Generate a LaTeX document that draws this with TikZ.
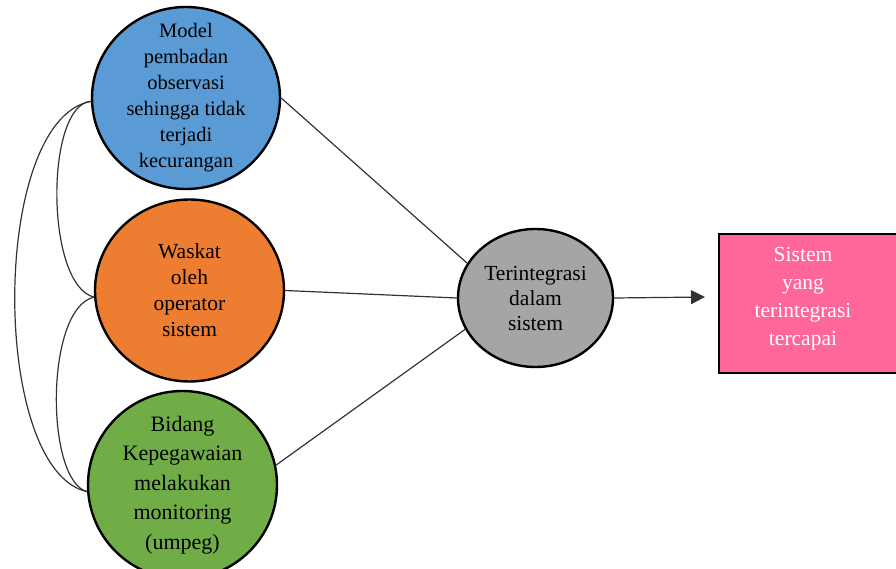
\documentclass[tikz,border=0pt]{standalone}
\usepackage{fontspec}
\setmainfont{Liberation Serif}
\usetikzlibrary{arrows.meta,shapes.geometric}
\definecolor{cblue}{HTML}{5B9BD5}
\definecolor{corange}{HTML}{ED7D31}
\definecolor{cgreen}{HTML}{70AD47}
\definecolor{cgrey}{HTML}{A5A5A5}
\definecolor{cpink}{HTML}{FF6699}
\tikzset{
  bubble/.style={ellipse, draw=black, line width=2.4pt, inner sep=0pt},
  bubbletext/.style={align=center, inner sep=0pt},
  conn/.style={draw=black!80, line width=1.2pt},
  loop/.style={draw=black!80, line width=1.2pt},
}
\begin{document}
\begin{tikzpicture}[x=1pt,y=-1pt]
\useasboundingbox (0,0) rectangle (896,569);
\node[bubble, fill=cblue, minimum width=188pt, minimum height=182pt,
  label={[bubbletext, font=\fontsize{20.5}{26}\selectfont]center:{Model\\pembadan\\observasi\\sehingga tidak\\terjadi\\kecurangan}}] (blue) at (186,98) {};
\node[bubble, fill=corange, minimum width=189pt, minimum height=182pt,
  label={[bubbletext, font=\fontsize{21.5}{26}\selectfont]center:{Waskat\\oleh\\operator\\sistem}}] (orange) at (189.5,290.5) {};
\node[bubble, fill=cgreen, minimum width=189pt, minimum height=188pt,
  label={[bubbletext, font=\fontsize{22}{29.5}\selectfont]center:{Bidang\\Kepegawaian\\melakukan\\monitoring\\(umpeg)}}] (green) at (182.5,485) {};
\node[bubble, fill=cgrey, minimum width=155pt, minimum height=138pt,
  label={[bubbletext, font=\fontsize{21.5}{25}\selectfont]center:{Terintegrasi\\dalam\\sistem}}] (grey) at (535.5,298) {};
\node[draw=black, line width=1.6pt, fill=cpink, minimum width=178pt, minimum height=139pt,
  inner sep=0pt,
  label={[bubbletext, text=white, font=\fontsize{21.5}{28}\selectfont, xshift=-5pt, yshift=5pt]center:{Sistem\\yang\\terintegrasi\\tercapai}}] (pink) at (808,303.5) {};
\coordinate (tip) at (705,297);
% connectors to the centre
\draw[conn] (blue.east) -- (grey.153);
\draw[conn] (orange.east) -- (grey.west);
\draw[conn] (green.12) -- (grey.204);
\draw[conn, -{Triangle[length=14pt,width=14pt]}] (grey.east) -- (tip);
% loops on the left
\draw[loop] (blue.182) .. controls (-10,120) and (-10,470) .. (green.184);
\draw[loop] (blue.182) .. controls (45,105) and (45,285) .. (orange.184);
\draw[loop] (orange.184) .. controls (45,308) and (45,480) .. (green.184);
\end{tikzpicture}
\end{document}
